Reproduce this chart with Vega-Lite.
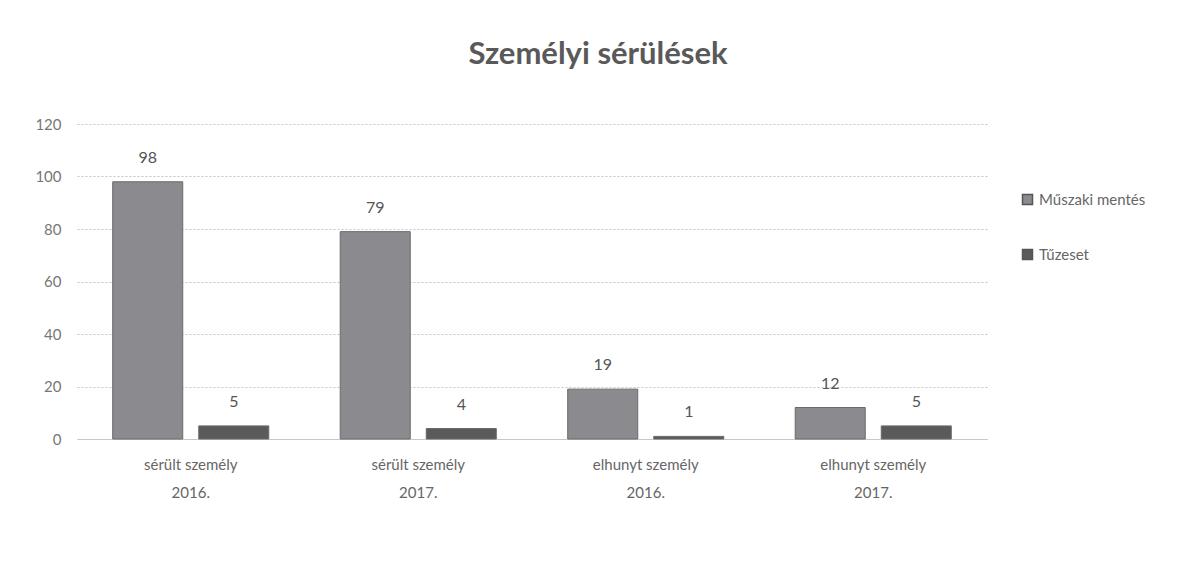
{
  "$schema": "https://vega.github.io/schema/vega-lite/v6.json",
  "width": 910,
  "height": 315,
  "autosize": {"type": "none"},
  "padding": {"left": 77, "top": 124, "right": 193, "bottom": 123},
  "background": "white",
  "title": {
    "text": "Személyi sérülések",
    "font": "Lato",
    "fontSize": 31,
    "fontWeight": "bold",
    "color": "#595959",
    "anchor": "middle",
    "dx": 66,
    "offset": 46
  },
  "config": {"view": {"stroke": null}},
  "data": {
    "values": [
      {"cat": "sérült személy|2016.", "series": "Műszaki mentés", "value": 98},
      {"cat": "sérült személy|2016.", "series": "Tűzeset", "value": 5},
      {"cat": "sérült személy|2017.", "series": "Műszaki mentés", "value": 79},
      {"cat": "sérült személy|2017.", "series": "Tűzeset", "value": 4},
      {"cat": "elhunyt személy|2016.", "series": "Műszaki mentés", "value": 19},
      {"cat": "elhunyt személy|2016.", "series": "Tűzeset", "value": 1},
      {"cat": "elhunyt személy|2017.", "series": "Műszaki mentés", "value": 12},
      {"cat": "elhunyt személy|2017.", "series": "Tűzeset", "value": 5}
    ]
  },
  "encoding": {
    "x": {
      "field": "cat",
      "type": "nominal",
      "sort": null,
      "scale": {"paddingInner": 0.314, "paddingOuter": 0.157},
      "axis": {
        "title": null,
        "labelAngle": 0,
        "labelExpr": "split(datum.label, '|')",
        "domain": true,
        "domainColor": "#c8c8c8",
        "ticks": false,
        "labelPadding": 18,
        "labelFontSize": 15,
        "labelLineHeight": 28,
        "labelColor": "#666666",
        "labelFont": "Lato"
      }
    },
    "xOffset": {
      "field": "series",
      "type": "nominal",
      "sort": ["Műszaki mentés", "Tűzeset"],
      "scale": {"paddingInner": 0.186}
    },
    "y": {
      "field": "value",
      "type": "quantitative",
      "scale": {"domain": [0, 120]},
      "axis": {
        "title": null,
        "values": [0, 20, 40, 60, 80, 100, 120],
        "grid": true,
        "gridColor": "#c4c4c4",
        "gridDash": [2, 2],
        "domain": false,
        "ticks": false,
        "labelPadding": 16,
        "labelFontSize": 15,
        "labelColor": "#777777",
        "labelFont": "Lato"
      }
    }
  },
  "layer": [
    {
      "mark": {"type": "bar", "stroke": "#6a6a6a", "strokeWidth": 1},
      "encoding": {
        "color": {
          "field": "series",
          "type": "nominal",
          "sort": ["Műszaki mentés", "Tűzeset"],
          "scale": {"domain": ["Műszaki mentés", "Tűzeset"], "range": ["#8b8b8f", "#5a5a5c"]},
          "legend": {
            "title": null,
            "orient": "none",
            "legendX": 943,
            "legendY": 68,
            "symbolType": "square",
            "symbolSize": 100,
            "symbolStrokeColor": "#555555",
            "labelFontSize": 15,
            "labelFont": "Lato",
            "labelColor": "#666666",
            "rowPadding": 38,
            "labelOffset": 4
          }
        }
      }
    },
    {
      "mark": {"type": "text", "baseline": "bottom", "dy": -16, "fontSize": 16, "font": "Lato", "color": "#555555"},
      "encoding": {"text": {"field": "value", "type": "quantitative"}}
    }
  ]
}
